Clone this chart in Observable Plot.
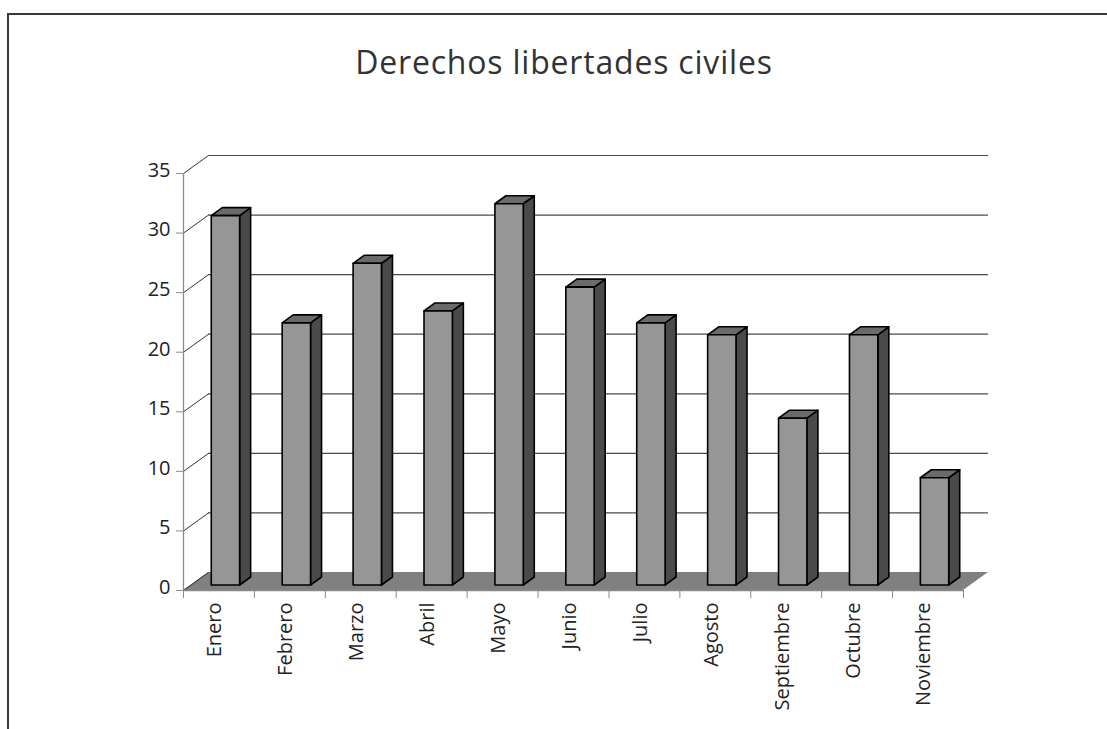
<!DOCTYPE html>
<html>
<head>
<meta charset="utf-8">
<script src="https://cdn.jsdelivr.net/npm/d3@7"></script>
<script src="https://cdn.jsdelivr.net/npm/@observablehq/plot@0.6"></script>
<style>
  html, body { margin: 0; padding: 0; background: #fff; }
  #wrap { position: relative; width: 1107px; height: 729px; overflow: hidden; }
  #chart { position: absolute; left: 0; top: 0; }
  #frame { position: absolute; left: 7px; top: 13px; right: -10px; bottom: -10px;
           border-top: 2px solid #3a3a3a; border-left: 2px solid #3a3a3a; pointer-events: none; }
  #title { position: absolute; left: 0; width: 1128px; top: 46px; text-align: center;
           font-family: 'Open Sans', sans-serif; font-size: 32px; line-height: 32px; color: #333;
           letter-spacing: 0.8px; }
</style>
</head>
<body>
<div id="wrap">
  <div id="chart"></div>
  <div id="frame"></div>
  <div id="title"></div>
</div>
<script>
const title = "Derechos libertades civiles";
const months = ["Enero","Febrero","Marzo","Abril","Mayo","Junio","Julio","Agosto","Septiembre","Octubre","Noviembre"];
const values = [31,22,27,23,32,25,22,21,14,21,9];
const yTicks = [0,5,10,15,20,25,30,35];

document.getElementById("title").textContent = title;

const W = 1107, H = 729, mL = 183, mR = 144, mT = 173, mB = 139;
const n = months.length;
const yMax = 35;
const pxX = (W - mL - mR) / n;
const pxY = (H - mT - mB) / yMax;
// wall depth (oblique projection) in data units
const wx = 25 / pxX, wy = 18 / pxY;
// bar depth in data units
const bx = 11 / pxX, by = 8 / pxY;
const b0 = 0.3, b1 = 0.7;

const bars = values.map((v, i) => ({k: i, m: months[i], v}));
const sides = bars.flatMap(d => [
  {k: d.k, x: d.k + b1, y1: 0, y2: d.v},
  {k: d.k, x: d.k + b1 + bx, y1: by, y2: d.v + by}
]);
const tops = bars.flatMap(d => [
  {k: d.k, y: d.v, x1: d.k + b0, x2: d.k + b1},
  {k: d.k, y: d.v + by, x1: d.k + b0 + bx, x2: d.k + b1 + bx}
]);
const floor = [{y: 0, x1: 0, x2: n}, {y: wy, x1: wx, x2: n + wx}];

const outline = {stroke: "#000", strokeWidth: 1.6, strokeLinejoin: "round", dx: 7, dy: -5};

const plot = Plot.plot({
  width: W, height: H,
  marginLeft: mL, marginRight: mR, marginTop: mT, marginBottom: mB,
  style: {fontFamily: "'Open Sans', sans-serif", fontSize: "20px", color: "#222", background: "transparent"},
  x: {domain: [0, n]},
  y: {domain: [0, yMax]},
  marks: [
    Plot.area(floor, {y1: "y", x1: "x1", x2: "x2", fill: "#808080"}),
    Plot.ruleY(yTicks.slice(1), {x1: 0, x2: n, dx: 25, dy: -18, stroke: "#4a4a4a", strokeWidth: 1.2}),
    Plot.link(yTicks, {x1: 0, x2: wx, y1: d => d, y2: d => d + wy, stroke: "#333", strokeWidth: 1}),
    Plot.ruleX([0], {y1: 0, y2: yMax, stroke: "#8a8a8a", strokeWidth: 1.3}),
    Plot.ruleY([0], {x1: 0, x2: n, stroke: "#8a8a8a", strokeWidth: 1.3}),
    Plot.axisY(yTicks, {tickSize: 7, tickFormat: () => "", stroke: "#8a8a8a", label: null}),
    Plot.axisY(yTicks, {tickSize: 0, tickPadding: 13, dy: -3, fill: "#222", fontSize: 20, label: null}),
    Plot.axisX(d3.range(n + 1), {tickSize: 8, tickFormat: () => "", stroke: "#8a8a8a", label: null}),
    Plot.axisX(d3.range(n).map(i => i + 0.5), {tickSize: 0, tickPadding: 12, tickRotate: -90,
      tickFormat: d => months[Math.floor(d)], fill: "#222", fontSize: 20, dx: -4, label: null}),
    Plot.area(sides, {x1: "x", y1: "y1", y2: "y2", z: "k", fill: "#4a4a4a", ...outline}),
    Plot.area(tops, {y1: "y", x1: "x1", x2: "x2", z: "k", fill: "#6a6a6a", ...outline}),
    Plot.rect(bars, {x1: d => d.k + b0, x2: d => d.k + b1, y1: 0, y2: "v", fill: "#969696", ...outline})
  ]
});
document.getElementById("chart").appendChild(plot);
</script>
</body>
</html>
